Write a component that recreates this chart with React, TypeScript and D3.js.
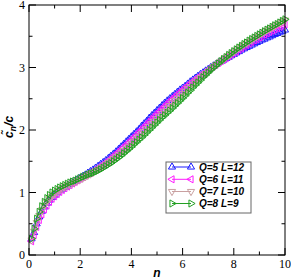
import React from "react";
import * as d3 from "d3";

const xTicks = [0, 2, 4, 6, 8, 10];
const yTicks = [0, 1, 2, 3, 4];
const nStep = 0.1;

const seriesQ5 = [0.26,0.36,0.50,0.61,0.70,0.77,0.83,0.88,0.92,0.96,
0.995,1.03,1.055,1.08,1.105,1.13,1.155,1.18,1.205,1.23,
1.255,1.28,1.31,1.335,1.36,1.39,1.42,1.45,1.48,1.51,
1.545,1.58,1.615,1.65,1.69,1.73,1.77,1.81,1.85,1.89,
1.93,1.97,2.01,2.06,2.10,2.14,2.19,2.23,2.27,2.31,
2.35,2.39,2.43,2.465,2.50,2.535,2.57,2.605,2.64,2.67,
2.70,2.735,2.77,2.80,2.83,2.86,2.89,2.915,2.945,2.97,
3.0,3.025,3.05,3.075,3.10,3.12,3.145,3.165,3.19,3.21,
3.235,3.255,3.28,3.30,3.32,3.34,3.36,3.38,3.40,3.42,
3.44,3.455,3.475,3.49,3.51,3.53,3.545,3.565,3.58,3.60];

const seriesQ6 = [0.22,0.32,0.45,0.56,0.65,0.73,0.79,0.85,0.90,0.94,
0.975,1.01,1.04,1.07,1.095,1.12,1.145,1.17,1.195,1.22,
1.245,1.27,1.295,1.315,1.34,1.365,1.395,1.42,1.45,1.48,
1.51,1.54,1.58,1.615,1.65,1.69,1.725,1.765,1.80,1.84,
1.88,1.92,1.965,2.005,2.05,2.09,2.135,2.175,2.22,2.26,
2.30,2.34,2.38,2.42,2.46,2.495,2.535,2.57,2.605,2.64,
2.675,2.71,2.745,2.775,2.81,2.84,2.87,2.90,2.93,2.96,
2.99,3.02,3.045,3.075,3.10,3.125,3.15,3.18,3.205,3.23,
3.255,3.285,3.31,3.335,3.36,3.385,3.41,3.435,3.455,3.48,
3.50,3.525,3.545,3.57,3.59,3.61,3.63,3.65,3.67,3.69];

const seriesQ7 = [0.24,0.38,0.52,0.63,0.72,0.79,0.85,0.90,0.94,0.98,
1.01,1.04,1.065,1.09,1.11,1.13,1.15,1.17,1.19,1.21,
1.23,1.25,1.275,1.295,1.32,1.345,1.37,1.395,1.42,1.45,
1.48,1.51,1.54,1.57,1.60,1.635,1.67,1.705,1.74,1.78,
1.82,1.86,1.90,1.94,1.98,2.02,2.06,2.10,2.14,2.18,
2.22,2.26,2.30,2.35,2.39,2.43,2.47,2.505,2.545,2.58,
2.62,2.66,2.695,2.735,2.77,2.805,2.84,2.875,2.905,2.94,
2.975,3.01,3.04,3.07,3.10,3.13,3.16,3.19,3.22,3.25,
3.28,3.31,3.335,3.365,3.39,3.415,3.44,3.47,3.495,3.52,
3.545,3.57,3.595,3.615,3.64,3.665,3.69,3.71,3.735,3.76];

const seriesQ8 = [0.26,0.42,0.58,0.69,0.78,0.85,0.91,0.96,1.0,1.03,
1.055,1.08,1.10,1.12,1.14,1.16,1.175,1.19,1.21,1.23,
1.25,1.265,1.285,1.30,1.31,1.33,1.35,1.37,1.395,1.42,
1.445,1.47,1.50,1.53,1.56,1.59,1.625,1.66,1.695,1.73,
1.77,1.805,1.845,1.88,1.92,1.96,2.0,2.04,2.08,2.12,
2.16,2.20,2.235,2.275,2.31,2.35,2.39,2.43,2.47,2.51,
2.55,2.595,2.635,2.68,2.72,2.76,2.80,2.845,2.88,2.92,
2.96,2.995,3.03,3.065,3.10,3.135,3.165,3.20,3.23,3.26,
3.29,3.32,3.345,3.375,3.40,3.43,3.455,3.48,3.505,3.53,
3.555,3.58,3.605,3.625,3.65,3.675,3.695,3.72,3.745,3.77];

const seriesLabels = ["Q=5 L=12", "Q=6 L=11", "Q=7 L=10", "Q=8 L=9"];
const seriesData = [seriesQ5, seriesQ6, seriesQ7, seriesQ8];
const seriesColors = ["#1a1aff", "#ff1aff", "#c9a0a0", "#22a022"];
const seriesRot = [0, -90, 180, 90];

const W = 291, H = 279;
const L = 29, R = 285, T = 5, B = 255;

export default function App() {
  const x = d3.scaleLinear().domain([0, 10]).range([L, R]);
  const y = d3.scaleLinear().domain([0, 4]).range([B, T]);
  const tri = d3.symbol().type(d3.symbolTriangle).size(22)() as string;
  const line = d3.line<number>().x((_, i) => x((i + 1) * nStep)).y((d) => y(d));
  const xMinor = d3.range(1, 10, 2);
  const yMinor = d3.range(0.5, 4, 1);

  const legX0 = 166, legY0 = 162, legW = 85, legH = 51;
  const rowY = [167, 179.3, 191.5, 203.5];

  return (
    <svg width={W} height={H} style={{ position: "absolute", left: 0, top: 0, background: "#fff" }}>
      {seriesData.map((s, k) => (
        <g key={k}>
          <path d={line(s) as string} fill="none" stroke={seriesColors[k]} strokeWidth={1} />
          {s.map((v, i) => (
            <path key={i} d={tri} transform={`translate(${x((i + 1) * nStep)},${y(v)}) rotate(${seriesRot[k]})`}
              fill="none" stroke={seriesColors[k]} strokeWidth={1} />
          ))}
        </g>
      ))}
      <rect x={L} y={T} width={R - L} height={B - T} fill="none" stroke="#000" strokeWidth={1} />
      {xTicks.map((t) => (
        <g key={"xt" + t}>
          <line x1={x(t)} x2={x(t)} y1={B} y2={B - 7} stroke="#000" />
          <line x1={x(t)} x2={x(t)} y1={T} y2={T + 7} stroke="#000" />
          <text x={x(t)} y={268} textAnchor="middle" fontFamily="Liberation Serif, serif" fontSize={12}>{t}</text>
        </g>
      ))}
      {xMinor.map((t) => (
        <g key={"xm" + t}>
          <line x1={x(t)} x2={x(t)} y1={B} y2={B - 3.5} stroke="#000" />
          <line x1={x(t)} x2={x(t)} y1={T} y2={T + 3.5} stroke="#000" />
        </g>
      ))}
      {yTicks.map((t) => (
        <g key={"yt" + t}>
          <line x1={L} x2={L + 7} y1={y(t)} y2={y(t)} stroke="#000" />
          <line x1={R} x2={R - 7} y1={y(t)} y2={y(t)} stroke="#000" />
          <text x={25} y={y(t) + 4} textAnchor="end" fontFamily="Liberation Serif, serif" fontSize={12}>{t}</text>
        </g>
      ))}
      {yMinor.map((t) => (
        <g key={"ym" + t}>
          <line x1={L} x2={L + 3.5} y1={y(t)} y2={y(t)} stroke="#000" />
          <line x1={R} x2={R - 3.5} y1={y(t)} y2={y(t)} stroke="#000" />
        </g>
      ))}
      <text x={157} y={277} textAnchor="middle" fontFamily="Liberation Sans, Arial, sans-serif" fontWeight="bold" fontStyle="italic" fontSize={12}>n</text>
      <text transform="translate(13,127) rotate(-90)" textAnchor="middle" fontFamily="Liberation Sans, Arial, sans-serif" fontWeight="bold" fontStyle="italic" fontSize={12}>
        {"c\u0303"}<tspan fontSize={9} dy={3}>n</tspan><tspan dy={-3}>/c</tspan>
      </text>
      <rect x={legX0} y={legY0} width={legW} height={legH} fill="#fff" stroke="#666" strokeWidth={1} />
      {seriesLabels.map((lab, k) => (
        <g key={"lg" + k}>
          <line x1={172} x2={191} y1={rowY[k]} y2={rowY[k]} stroke={seriesColors[k]} />
          <path d={tri} transform={`translate(172,${rowY[k]}) rotate(${seriesRot[k]})`} fill="none" stroke={seriesColors[k]} />
          <path d={tri} transform={`translate(191,${rowY[k]}) rotate(${seriesRot[k]})`} fill="none" stroke={seriesColors[k]} />
          <text x={199} y={rowY[k] + 3.5} fontFamily="Liberation Sans, Arial, sans-serif" fontWeight="bold" fontStyle="italic" fontSize={10}>{lab}</text>
        </g>
      ))}
    </svg>
  );
}
